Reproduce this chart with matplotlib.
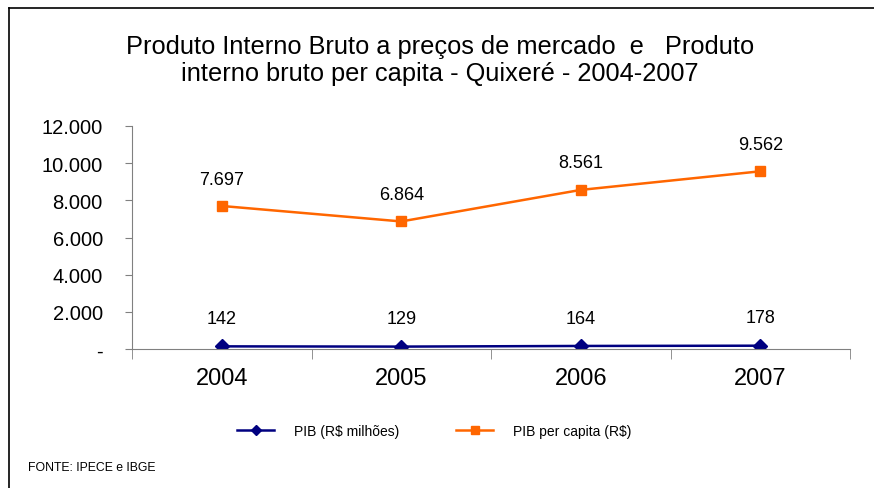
import matplotlib
matplotlib.use("Agg")
import matplotlib.pyplot as plt
from matplotlib.lines import Line2D
import numpy as np

plt.rcParams['font.family'] = ['Liberation Sans', 'DejaVu Sans']

# data
anos = ["2004", "2005", "2006", "2007"]
pib = [142, 129, 164, 178]
pib_per_capita = [7697, 6864, 8561, 9562]
yticks = [0, 2000, 4000, 6000, 8000, 10000, 12000]


def fmt_br(v):
    if v == 0:
        return "-"
    return f"{v:,.0f}".replace(",", ".")


fig = plt.figure(figsize=(8.74, 4.89), dpi=100)
ax = fig.add_axes([132 / 874, 1 - 350 / 489, (850 - 132) / 874, (350 - 127) / 489])

x = np.arange(len(anos))
ax.plot(x, pib, color="#000080", lw=1.8, marker="D", ms=7, label="PIB (R$ milhões)")
ax.plot(x, pib_per_capita, color="#FF6600", lw=1.8, marker="s", ms=7, label="PIB per capita (R$)")

for xi, v in zip(x, pib):
    ax.text(xi, v + 1500, fmt_br(v), ha="center", va="center", fontsize=13)
for xi, v in zip(x, pib_per_capita):
    ax.text(xi, v + 1450, fmt_br(v), ha="center", va="center", fontsize=13)

ax.set_xlim(-0.5, len(anos) - 0.5)
ax.set_ylim(0, 12000)
ax.set_yticks(yticks)
ax.set_yticklabels([fmt_br(v) for v in yticks], fontsize=14.5)
ax.tick_params(axis="y", direction="out", length=5, color="#808080", pad=16)

ax.set_xticks(x)
ax.set_xticklabels(anos, fontsize=17)
ax.tick_params(axis="x", which="major", length=0, pad=13)
ax.set_xticks(np.arange(-0.5, len(anos)), minor=True)
ax.tick_params(axis="x", which="minor", direction="out", length=7, color="#808080")

for side in ["top", "right"]:
    ax.spines[side].set_visible(False)
for side in ["left", "bottom"]:
    ax.spines[side].set_color("#808080")

fig.text(440 / 874, 1 - 47 / 489, "Produto Interno Bruto a preços de mercado  e   Produto",
         ha="center", va="center", fontsize=18.3)
fig.text(440 / 874, 1 - 74 / 489, "interno bruto per capita - Quixeré - 2004-2007",
         ha="center", va="center", fontsize=18.3)

ax.legend(loc="center", bbox_to_anchor=(434 / 874, 1 - 432 / 489), bbox_transform=fig.transFigure,
          ncol=2, frameon=False, fontsize=10, handlelength=2.7, columnspacing=4.1, handletextpad=1.4,
          markerscale=0.8)

fig.text(28 / 874, 1 - 468 / 489, "FONTE: IPECE e IBGE", ha="left", va="center", fontsize=8.8)

# partial frame around the chart
fig.add_artist(Line2D([9 / 874, 9 / 874], [0, 1 - 9 / 489], transform=fig.transFigure, color="black", lw=1.2))
fig.add_artist(Line2D([9 / 874, 1], [1 - 9 / 489, 1 - 9 / 489], transform=fig.transFigure, color="black", lw=1.2))

fig.savefig("out.png", dpi=100)
